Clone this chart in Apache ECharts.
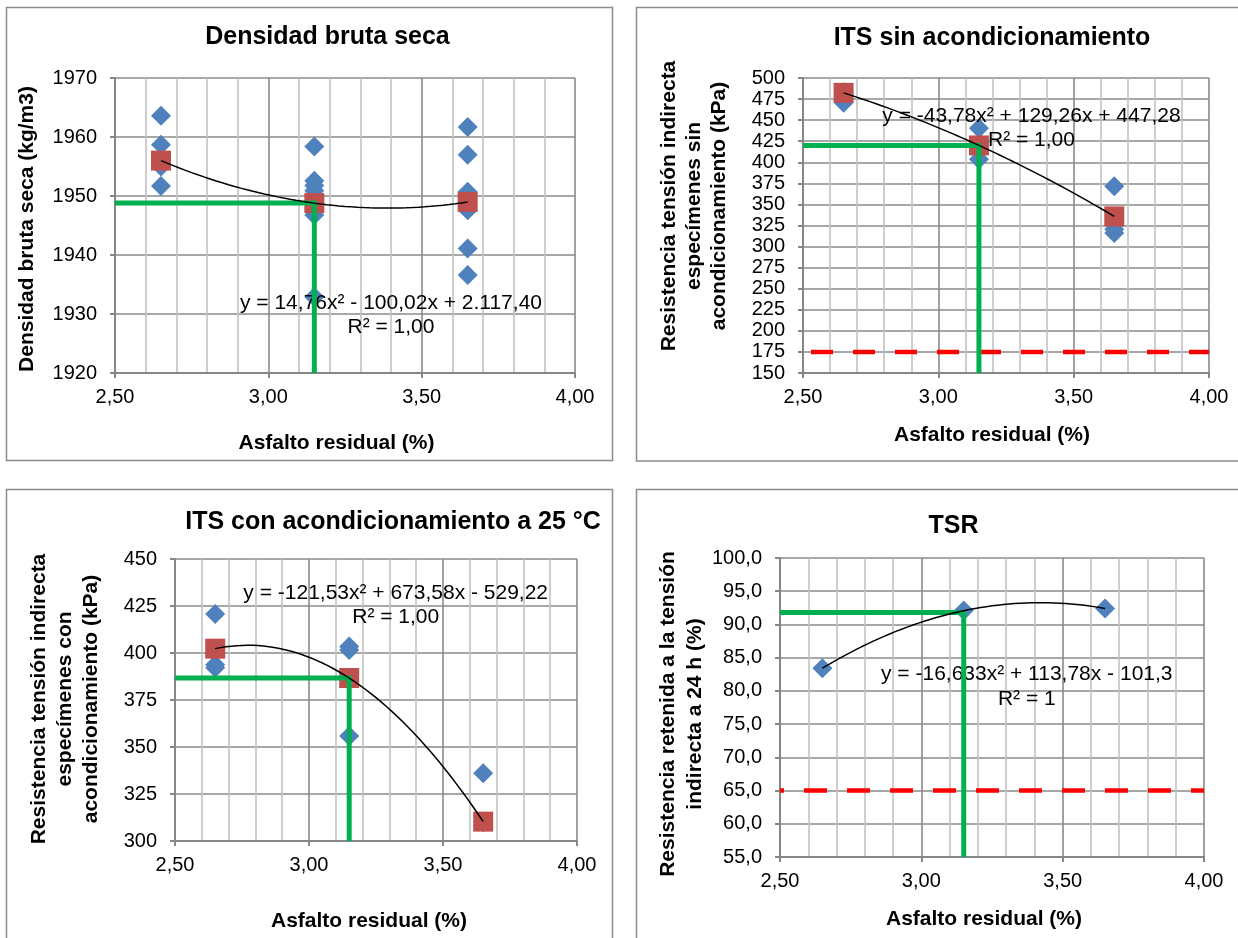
<!DOCTYPE html>
<html>
<head>
<meta charset="utf-8">
<script src="https://cdn.jsdelivr.net/npm/echarts@6/dist/echarts.min.js"></script>
<style>
  html, body { margin: 0; padding: 0; background: #ffffff; }
  #chart { width: 1238px; height: 938px; }
</style>
</head>
<body>
<div id="chart"></div>
<script>
// Contenido de asfalto residual (%) de las series de probetas
const asphaltLevels = [2.65, 3.15, 3.65];
const designAsphalt = 3.15;
const asphaltAxis = [2.5, 4.0, 0.5];

// Densidad bruta seca (kg/m3)
const densitySpecimens = [
  [1963.6, 1958.7, 1956.5, 1955.0, 1951.7],
  [1958.4, 1952.6, 1951.8, 1950.9, 1946.8, 1932.9],
  [1961.7, 1957.0, 1950.7, 1947.6, 1941.1, 1936.6]
];
const densityMeans = [1956.0, 1948.8, 1949.0];
const densityFit = [14.76, -100.02, 2117.40];
const densityFitText = ['y = 14,76x² - 100,02x + 2.117,40', 'R² = 1,00'];
const densityAtDesign = 1948.8;
const densityAxis = [1920, 1970, 10];

// ITS sin acondicionamiento (kPa)
const itsDrySpecimens = [
  [470.5, 478.0, 483.0],
  [440.3, 420.0, 403.5],
  [371.5, 320.5, 316.0]
];
const itsDryMeans = [482.4, 420.0, 335.8];
const itsDryFit = [-43.78, 129.26, 447.28];
const itsDryFitText = ['y = -43,78x² + 129,26x + 447,28', 'R² = 1,00'];
const itsDryAtDesign = 420.0;
const itsDryLimit = 175;
const itsDryAxis = [150, 500, 25];

// ITS con acondicionamiento a 25 °C (kPa)
const itsWetSpecimens = [
  [420.7, 393.8, 392.2],
  [403.4, 401.6, 355.8],
  [336.0, 310.0]
];
const itsWetMeans = [402.3, 386.7, 310.3];
const itsWetFit = [-121.53, 673.58, -529.22];
const itsWetFitText = ['y = -121,53x² + 673,58x - 529,22', 'R² = 1,00'];
const itsWetAtDesign = 386.7;
const itsWetAxis = [300, 450, 25];

// TSR: resistencia retenida a 24 h (%)
const tsrValues = [83.4, 92.1, 92.4];
const tsrFit = [-16.633, 113.78, -101.3];
const tsrFitText = ['y = -16,633x² + 113,78x - 101,3', 'R² = 1'];
const tsrAtDesign = 91.8;
const tsrLimit = 65;
const tsrAxis = [55, 100, 5];

const FONT = '"Liberation Sans", Arial, Helvetica, sans-serif';
const BLUE = '#4F81BD', RED = '#C0504D', GREEN = '#00B050', LIMIT = '#FF0000';
const AXIS_GREY = '#868686', MAJOR_GRID = '#8a8a8a', MINOR_GRID = '#c2c2c2';

const comma = (v, d) => v.toFixed(d).replace('.', ',');

// Panel layout: plot rectangles, frames and text placement
const panels = [
  {
    grid: { left: 115, top: 78, width: 460, height: 295 },
    frame: [6.5, 7.5, 606, 453],
    yAxis: densityAxis, yDecimals: 0,
    title: { text: 'Densidad bruta seca', x: 327.5, y: 37 },
    xName: { x: 336.5, y: 443 },
    yName: { text: 'Densidad bruta seca (kg/m3)', x: 27, y: 229, lineHeight: 24 },
    specimens: densitySpecimens, means: densityMeans,
    fit: densityFit, fitText: densityFitText, fitAt: [3.40, 1929.8], fitLine: 23.5,
    design: densityAtDesign, limit: null
  },
  {
    grid: { left: 803, top: 78, width: 406, height: 295 },
    frame: [636.5, 7.5, 610, 453.5],
    yAxis: itsDryAxis, yDecimals: 0,
    title: { text: 'ITS sin acondicionamiento', x: 992, y: 38.5 },
    xName: { x: 992, y: 435 },
    yName: { text: 'Resistencia tensión indirecta\nespecímenes sin\nacondicionamiento (kPa)', x: 694.5, y: 206, lineHeight: 25 },
    specimens: itsDrySpecimens, means: itsDryMeans,
    fit: itsDryFit, fitText: itsDryFitText, fitAt: [3.344, 440.5], fitLine: 24.3,
    design: itsDryAtDesign, limit: itsDryLimit, dash: [22, 20], dashOffset: 34
  },
  {
    grid: { left: 175, top: 559, width: 402, height: 282 },
    frame: [6.5, 489.5, 606, 460],
    yAxis: itsWetAxis, yDecimals: 0,
    title: { text: 'ITS con acondicionamiento a 25 °C', x: 393, y: 522 },
    xName: { x: 369, y: 921.5 },
    yName: { text: 'Resistencia tensión indirecta\nespecímenes con\nacondicionamiento (kPa)', x: 65.6, y: 699, lineHeight: 26 },
    specimens: itsWetSpecimens, means: itsWetMeans,
    fit: itsWetFit, fitText: itsWetFitText, fitAt: [3.3235, 425.4], fitLine: 23.3,
    design: itsWetAtDesign, limit: null
  },
  {
    grid: { left: 780, top: 558, width: 424, height: 299 },
    frame: [636.5, 489.5, 610, 460],
    yAxis: tsrAxis, yDecimals: 1,
    title: { text: 'TSR', x: 953.5, y: 526 },
    xName: { x: 984, y: 919 },
    yName: { text: 'Resistencia retenida a la tensión\nindirecta a 24 h (%)', x: 681.6, y: 714, lineHeight: 27 },
    specimens: tsrValues.map(v => [v]), means: null,
    fit: tsrFit, fitText: tsrFitText, fitAt: [3.373, 80.6], fitLine: 24.4,
    design: tsrAtDesign, limit: tsrLimit, dash: [23, 20], dashOffset: 19
  }
];

const grids = [], xAxes = [], yAxes = [], series = [];

panels.forEach((p, i) => {
  grids.push(Object.assign({ outerBoundsMode: 'none', containLabel: false }, p.grid));

  xAxes.push({
    gridIndex: i, type: 'value',
    min: asphaltAxis[0], max: asphaltAxis[1], interval: asphaltAxis[2],
    axisLine: { show: true, onZero: false, lineStyle: { color: AXIS_GREY, width: 2 } },
    axisTick: { show: true, length: 5, lineStyle: { color: AXIS_GREY, width: 2 } },
    axisLabel: { show: true, showMinLabel: true, showMaxLabel: true, margin: 14,
      color: '#000', fontSize: 20, fontFamily: FONT, formatter: v => comma(v, 2) },
    splitLine: { show: true, lineStyle: { color: MAJOR_GRID, width: 1.6 } },
    minorTick: { show: false, splitNumber: 5 },
    minorSplitLine: { show: true, lineStyle: { color: MINOR_GRID, width: 1.6 } }
  });

  yAxes.push({
    gridIndex: i, type: 'value',
    min: p.yAxis[0], max: p.yAxis[1], interval: p.yAxis[2],
    axisLine: { show: true, onZero: false, lineStyle: { color: AXIS_GREY, width: 2 } },
    axisTick: { show: true, length: 5, lineStyle: { color: AXIS_GREY, width: 2 } },
    axisLabel: { show: true, showMinLabel: true, showMaxLabel: true, margin: 18,
      color: '#000', fontSize: 20, fontFamily: FONT, formatter: v => comma(v, p.yDecimals) },
    splitLine: { show: true, lineStyle: { color: MAJOR_GRID, width: 1.6 } }
  });

  // individual specimens
  const pts = [];
  p.specimens.forEach((vals, k) => vals.forEach(v => pts.push([asphaltLevels[k], v])));
  series.push({
    type: 'scatter', xAxisIndex: i, yAxisIndex: i, z: 2, silent: true,
    symbol: 'diamond', symbolSize: 20, itemStyle: { color: BLUE, opacity: 1 }, data: pts
  });

  // mean per asphalt content
  if (p.means) {
    series.push({
      type: 'scatter', xAxisIndex: i, yAxisIndex: i, z: 3, silent: true,
      symbol: 'rect', symbolSize: 20, itemStyle: { color: RED, opacity: 1 },
      data: p.means.map((v, k) => [asphaltLevels[k], v])
    });
  }

  // specification limit
  if (p.limit !== null) {
    series.push({
      type: 'line', xAxisIndex: i, yAxisIndex: i, z: 4, silent: true, symbol: 'none',
      lineStyle: { color: LIMIT, width: 4.5, type: p.dash, dashOffset: p.dashOffset, cap: 'butt' },
      data: [[asphaltAxis[0], p.limit], [asphaltAxis[1], p.limit]]
    });
  }

  // design asphalt content read-off
  series.push({
    type: 'line', xAxisIndex: i, yAxisIndex: i, z: 5, silent: true, symbol: 'none',
    lineStyle: { color: GREEN, width: 5, join: 'miter' },
    data: [[asphaltAxis[0], p.design], [designAsphalt, p.design], [designAsphalt, p.yAxis[0]]]
  });

  // polynomial trend line from the fitted coefficients
  const [a, b, c] = p.fit;
  const trend = [];
  const x0 = asphaltLevels[0], x1 = asphaltLevels[asphaltLevels.length - 1];
  for (let s = 0; s <= 50; s++) {
    const x = x0 + (x1 - x0) * s / 50;
    trend.push([x, a * x * x + b * x + c]);
  }
  series.push({
    type: 'line', xAxisIndex: i, yAxisIndex: i, z: 6, silent: true, symbol: 'none',
    lineStyle: { color: '#000', width: 1.5 }, data: trend
  });
});

const chart = echarts.init(document.getElementById('chart'), null, { renderer: 'canvas' });
chart.setOption({
  animation: false,
  backgroundColor: '#ffffff',
  grid: grids, xAxis: xAxes, yAxis: yAxes, series: series
});

// frames, titles, axis names and fit equations
const graphics = [];
panels.forEach((p, i) => {
  graphics.push({
    type: 'rect', z: 0, silent: true,
    shape: { x: p.frame[0], y: p.frame[1], width: p.frame[2], height: p.frame[3] },
    style: { fill: 'none', stroke: '#8c8c8c', lineWidth: 1.5 }
  });
  graphics.push({
    type: 'text', z: 10, silent: true, x: p.title.x, y: p.title.y,
    style: { text: p.title.text, fontSize: 25, fontWeight: 'bold', fontFamily: FONT,
      fill: '#000', align: 'center', verticalAlign: 'middle' }
  });
  graphics.push({
    type: 'text', z: 10, silent: true, x: p.xName.x, y: p.xName.y,
    style: { text: 'Asfalto residual (%)', fontSize: 21, fontWeight: 'bold', fontFamily: FONT,
      fill: '#000', align: 'center', verticalAlign: 'middle' }
  });
  graphics.push({
    type: 'text', z: 10, silent: true, x: p.yName.x, y: p.yName.y, rotation: Math.PI / 2,
    style: { text: p.yName.text, fontSize: 21, fontWeight: 'bold', fontFamily: FONT,
      lineHeight: p.yName.lineHeight, fill: '#000', align: 'center', verticalAlign: 'middle' }
  });
  const at = chart.convertToPixel({ gridIndex: i }, p.fitAt);
  graphics.push({
    type: 'text', z: 2.5, silent: true, x: at[0], y: at[1],
    style: { text: p.fitText.join('\n'), fontSize: 21, fontFamily: FONT, lineHeight: p.fitLine,
      fill: '#000', align: 'center', verticalAlign: 'middle' }
  });
});

chart.setOption({ graphic: { elements: graphics } });
</script>
</body>
</html>
